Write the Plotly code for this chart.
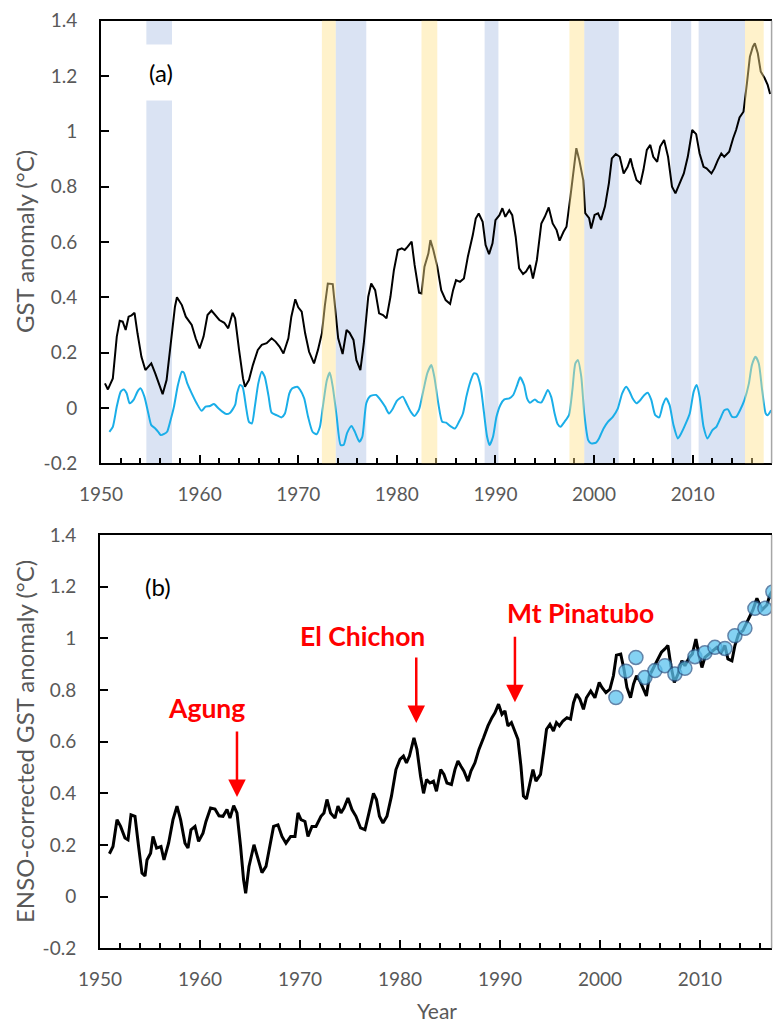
import plotly.graph_objects as go

# ---------------- data ----------------
gst_year = [1950.4,1950.7,1951.2,1951.6,1951.9,1952.2,1952.5,1952.8,1953.1,1953.4,1953.7,1954.1,1954.5,1954.8,1955.1,1955.5,1955.8,1956.25,1956.65,1957.05,1957.5,1957.7,1958.2,1958.6,1958.85,1959.2,1959.6,1960.0,1960.4,1960.8,1961.2,1961.55,1962.0,1962.5,1962.9,1963.35,1963.6,1964.0,1964.4,1964.6,1965.0,1965.4,1965.9,1966.3,1966.8,1967.3,1967.7,1968.1,1968.5,1969.0,1969.3,1969.7,1970.0,1970.35,1970.7,1971.1,1971.6,1972.0,1972.4,1972.7,1973.0,1973.5,1973.8,1974.05,1974.5,1974.9,1975.2,1975.6,1975.9,1976.3,1976.65,1977.1,1977.4,1977.8,1978.2,1978.6,1978.95,1979.35,1979.7,1980.1,1980.5,1980.8,1981.1,1981.5,1981.8,1982.25,1982.5,1982.8,1983.2,1983.4,1983.7,1984.1,1984.5,1984.95,1985.4,1985.7,1986.0,1986.4,1986.8,1987.2,1987.7,1988.0,1988.3,1988.7,1989.0,1989.35,1989.7,1990.0,1990.4,1990.7,1991.0,1991.4,1991.7,1992.05,1992.4,1992.8,1993.1,1993.5,1993.8,1994.2,1994.65,1995.0,1995.4,1995.8,1996.2,1996.5,1996.9,1997.2,1997.6,1997.9,1998.2,1998.5,1998.9,1999.1,1999.5,1999.7,2000.05,2000.4,2000.7,2001.1,2001.5,2001.8,2002.2,2002.6,2003.0,2003.4,2003.7,2003.9,2004.3,2004.7,2005.0,2005.35,2005.7,2006.0,2006.4,2006.7,2007.1,2007.5,2007.9,2008.25,2008.7,2009.1,2009.5,2009.95,2010.35,2010.7,2011.1,2011.4,2011.9,2012.2,2012.55,2012.9,2013.2,2013.7,2014.1,2014.4,2014.75,2015.15,2015.5,2015.8,2016.1,2016.3,2016.6,2016.9,2017.3,2017.6,2017.85]
gst_val = [0.089,0.067,0.107,0.258,0.315,0.312,0.282,0.33,0.335,0.344,0.27,0.185,0.137,0.149,0.161,0.125,0.095,0.05,0.101,0.234,0.366,0.40,0.372,0.33,0.318,0.30,0.252,0.215,0.258,0.336,0.352,0.336,0.318,0.308,0.288,0.344,0.324,0.21,0.107,0.077,0.101,0.155,0.21,0.228,0.234,0.252,0.24,0.222,0.197,0.252,0.33,0.393,0.364,0.348,0.27,0.203,0.161,0.21,0.27,0.37,0.45,0.448,0.354,0.252,0.195,0.282,0.272,0.246,0.173,0.137,0.234,0.402,0.45,0.426,0.342,0.336,0.324,0.402,0.498,0.571,0.577,0.571,0.583,0.601,0.517,0.417,0.414,0.511,0.559,0.607,0.571,0.511,0.426,0.39,0.376,0.426,0.462,0.456,0.468,0.547,0.625,0.685,0.703,0.673,0.589,0.556,0.595,0.679,0.697,0.722,0.691,0.715,0.697,0.619,0.505,0.484,0.493,0.517,0.468,0.535,0.667,0.691,0.725,0.667,0.643,0.605,0.637,0.655,0.764,0.86,0.939,0.896,0.824,0.704,0.686,0.649,0.698,0.704,0.68,0.728,0.812,0.902,0.918,0.908,0.848,0.872,0.902,0.872,0.824,0.812,0.86,0.933,0.951,0.908,0.89,0.945,0.969,0.908,0.8,0.776,0.812,0.848,0.908,1.005,0.99,0.92,0.872,0.866,0.848,0.866,0.896,0.92,0.908,0.926,0.975,1.005,1.05,1.071,1.174,1.27,1.306,1.318,1.282,1.216,1.192,1.168,1.135]

enso_year = [1950.85,1951.2,1951.6,1952.0,1952.3,1952.6,1952.9,1953.3,1953.7,1954.0,1954.4,1954.8,1955.1,1955.5,1955.8,1956.05,1956.4,1956.7,1957.05,1957.4,1957.8,1958.2,1958.4,1958.75,1959.2,1959.7,1960.2,1960.6,1961.05,1961.45,1961.9,1962.3,1962.7,1963.1,1963.6,1963.8,1964.1,1964.35,1964.7,1965.0,1965.3,1965.6,1965.95,1966.3,1966.6,1967.0,1967.3,1967.8,1968.3,1968.65,1969.1,1969.4,1969.9,1970.2,1970.6,1971.0,1971.45,1971.85,1972.2,1972.5,1972.9,1973.2,1973.5,1973.9,1974.3,1974.6,1974.96,1975.4,1975.74,1976.2,1976.5,1976.9,1977.3,1977.9,1978.3,1978.8,1979.2,1979.6,1980.0,1980.6,1980.97,1981.4,1981.8,1982.25,1982.7,1983.1,1983.5,1983.8,1984.2,1984.6,1985.0,1985.4,1985.9,1986.3,1986.7,1987.05,1987.45,1987.8,1988.1,1988.5,1988.8,1989.15,1989.4,1989.75,1990.1,1990.5,1990.9,1991.4,1991.8,1992.2,1992.5,1992.9,1993.2,1993.5,1994.0,1994.3,1994.65,1995.0,1995.3,1995.65,1996.0,1996.3,1996.6,1997.0,1997.45,1997.8,1998.1,1998.36,1998.7,1999.0,1999.4,1999.7,2000.2,2000.5,2000.96,2001.4,2001.9,2002.4,2002.85,2003.26,2003.6,2003.9,2004.3,2004.7,2005.1,2005.45,2005.8,2006.2,2006.6,2006.97,2007.3,2007.65,2008.05,2008.5,2008.8,2009.3,2009.7,2010.1,2010.4,2010.7,2011.1,2011.5,2012.0,2012.4,2012.8,2013.2,2013.56,2014.0,2014.4,2014.8,2015.25,2015.7,2016.0,2016.36,2016.7,2017.04,2017.4,2017.6,2017.95]
enso_val = [-0.086,-0.068,0.005,0.059,0.067,0.053,0.017,0.029,0.059,0.071,0.041,-0.02,-0.062,-0.074,-0.086,-0.098,-0.094,-0.086,-0.044,0.005,0.083,0.131,0.128,0.089,0.053,0.017,-0.01,0.005,0.007,0.014,-0.001,-0.013,-0.022,-0.017,0.011,0.053,0.083,0.077,0.005,-0.05,-0.056,0.005,0.089,0.131,0.113,0.041,-0.017,-0.026,-0.034,-0.02,0.053,0.071,0.077,0.065,0.035,-0.032,-0.086,-0.095,-0.068,0.005,0.1,0.128,0.077,-0.032,-0.134,-0.134,-0.09,-0.065,-0.086,-0.122,-0.104,0.017,0.043,0.047,0.031,0.005,-0.02,-0.002,0.026,0.041,0.017,-0.013,-0.029,-0.005,0.065,0.127,0.155,0.113,0.017,-0.05,-0.053,-0.065,-0.074,-0.05,-0.02,0.041,0.095,0.125,0.123,0.077,-0.007,-0.104,-0.134,-0.104,-0.032,0.011,0.031,0.035,0.047,0.083,0.111,0.083,0.035,0.019,0.031,0.022,0.02,0.043,0.065,0.04,-0.02,-0.058,-0.068,-0.05,-0.026,0.065,0.161,0.173,0.113,-0.02,-0.116,-0.128,-0.125,-0.11,-0.074,-0.05,-0.032,-0.002,0.053,0.077,0.059,0.035,0.017,0.029,0.047,0.055,0.029,-0.026,-0.034,0.011,0.035,0.011,-0.062,-0.11,-0.094,-0.056,-0.02,0.059,0.083,0.041,-0.068,-0.11,-0.08,-0.068,-0.038,-0.008,-0.005,-0.032,-0.032,-0.008,0.029,0.089,0.155,0.185,0.161,0.065,-0.02,-0.026,-0.008]

corr_year = [1950.94,1951.3,1951.7,1952.06,1952.5,1952.8,1953.1,1953.5,1953.86,1954.2,1954.5,1954.7,1955.06,1955.3,1955.66,1956.1,1956.4,1956.86,1957.3,1957.7,1958.06,1958.5,1958.8,1959.1,1959.5,1959.86,1960.3,1960.6,1961.06,1961.5,1961.9,1962.3,1962.7,1963.0,1963.37,1963.7,1964.06,1964.36,1964.57,1964.9,1965.4,1965.77,1966.2,1966.6,1967.06,1967.36,1967.8,1968.2,1968.6,1969.07,1969.5,1969.8,1970.1,1970.5,1970.8,1971.2,1971.6,1972.1,1972.4,1972.7,1973.06,1973.5,1973.8,1974.1,1974.4,1974.8,1975.2,1975.6,1976.06,1976.5,1976.9,1977.35,1977.65,1977.95,1978.3,1978.7,1979.15,1979.6,1980.0,1980.35,1980.65,1980.95,1981.4,1981.7,1982.06,1982.36,1982.66,1983.0,1983.35,1983.65,1984.08,1984.4,1984.7,1985.15,1985.5,1985.8,1986.1,1986.4,1986.8,1987.1,1987.5,1987.9,1988.36,1988.8,1989.2,1989.5,1989.86,1990.2,1990.5,1990.8,1991.15,1991.5,1991.8,1992.1,1992.35,1992.65,1992.95,1993.3,1993.6,1994.06,1994.36,1994.66,1995.0,1995.35,1995.65,1995.95,1996.3,1996.7,1997.06,1997.36,1997.66,1998.0,1998.35,1998.65,1999.08,1999.5,1999.93,2000.2,2000.6,2001.0,2001.35,2001.65,2002.08,2002.4,2002.7,2003.06,2003.36,2003.66,2004.0,2004.35,2004.65,2004.95,2005.3,2005.7,2006.15,2006.5,2006.8,2007.1,2007.44,2007.8,2008.2,2008.5,2008.94,2009.24,2009.6,2009.92,2010.2,2010.5,2010.87,2011.3,2011.7,2012.15,2012.5,2012.8,2013.2,2013.5,2013.87,2014.3,2014.8,2015.3,2015.7,2016.2,2016.7,2017.0,2017.3]
corr_val = [0.166,0.194,0.298,0.272,0.227,0.22,0.317,0.311,0.194,0.091,0.08,0.142,0.168,0.233,0.188,0.194,0.142,0.207,0.298,0.35,0.298,0.207,0.188,0.259,0.272,0.214,0.246,0.291,0.343,0.339,0.313,0.311,0.337,0.304,0.352,0.324,0.194,0.065,0.013,0.117,0.201,0.155,0.093,0.117,0.207,0.272,0.278,0.233,0.207,0.233,0.233,0.324,0.298,0.291,0.233,0.272,0.272,0.311,0.324,0.376,0.324,0.304,0.35,0.324,0.343,0.382,0.337,0.311,0.266,0.259,0.324,0.40,0.376,0.311,0.285,0.311,0.389,0.492,0.531,0.544,0.518,0.544,0.615,0.57,0.466,0.40,0.453,0.44,0.447,0.408,0.492,0.473,0.44,0.434,0.492,0.525,0.505,0.486,0.447,0.486,0.518,0.57,0.615,0.661,0.693,0.712,0.745,0.706,0.719,0.661,0.674,0.641,0.609,0.505,0.389,0.378,0.427,0.492,0.447,0.473,0.557,0.648,0.667,0.641,0.674,0.661,0.68,0.693,0.687,0.751,0.784,0.764,0.725,0.77,0.796,0.77,0.829,0.81,0.79,0.803,0.855,0.935,0.939,0.881,0.81,0.77,0.823,0.855,0.835,0.803,0.777,0.855,0.881,0.907,0.946,0.959,0.972,0.894,0.829,0.861,0.913,0.894,0.926,0.939,0.997,0.933,0.887,0.926,0.939,0.952,0.965,0.946,0.972,0.92,0.913,0.972,1.017,1.03,1.071,1.11,1.155,1.11,1.129,1.168,1.187]

dots_year = [2001.6,2002.6,2003.6,2004.5,2005.5,2006.5,2007.5,2008.5,2009.5,2010.5,2011.5,2012.5,2013.5,2014.5,2015.5,2016.5,2017.3]
dots_val = [0.771,0.873,0.926,0.848,0.875,0.894,0.862,0.884,0.929,0.944,0.965,0.961,1.01,1.039,1.116,1.116,1.18]

el_nino = [(1972.4,1973.8),(1982.5,1984.1),(1997.5,1999.0),(2015.3,2017.2)]
la_nina = [(1954.6,1957.2),(1973.8,1976.9),(1988.9,1990.3),(1999.0,2002.5),(2007.8,2009.85),(2010.6,2015.3)]

volcanoes = ["Agung", "El Chichon", "Mt Pinatubo"]
volc_year = [1963.7, 1981.63, 1991.5]
volc_tip = [0.386, 0.672, 0.753]
volc_text_x = [1960.7, 1976.3, 1998.05]
volc_text_y = [0.73, 1.009, 1.098]

yticks = [-0.2, 0, 0.2, 0.4, 0.6, 0.8, 1.0, 1.2, 1.4]
ytick_text = ["-0.2", "0", "0.2", "0.4", "0.6", "0.8", "1", "1.2", "1.4"]
xticks = [1950, 1960, 1970, 1980, 1990, 2000, 2010]

# ---------------- figure ----------------
W, H = 773, 1025
FONT = "Lato"
GREY = "#595959"

fig = go.Figure()

fig.add_trace(go.Scatter(x=gst_year, y=gst_val, mode="lines",
                         line=dict(color="black", width=2), xaxis="x", yaxis="y",
                         showlegend=False, hoverinfo="skip"))
fig.add_trace(go.Scatter(x=enso_year, y=enso_val, mode="lines",
                         line=dict(color="#1aaee8", width=2, shape="spline", smoothing=0.6),
                         xaxis="x", yaxis="y", showlegend=False, hoverinfo="skip"))
fig.add_trace(go.Scatter(x=corr_year, y=corr_val, mode="lines",
                         line=dict(color="black", width=3), xaxis="x2", yaxis="y2",
                         showlegend=False, hoverinfo="skip"))
fig.add_trace(go.Scatter(x=dots_year, y=dots_val, mode="markers",
                         marker=dict(size=14, color="#5cc3ef", opacity=0.75,
                                     line=dict(color="#2e5a8c", width=1.5)),
                         xaxis="x2", yaxis="y2", showlegend=False, hoverinfo="skip"))

shapes = []
for a, b in la_nina:
    shapes.append(dict(type="rect", xref="x", yref="y domain", x0=a, x1=b, y0=0, y1=1,
                       fillcolor="#dae3f3", line=dict(width=0), layer="below"))
for a, b in el_nino:
    shapes.append(dict(type="rect", xref="x", yref="y domain", x0=a, x1=b, y0=0, y1=1,
                       fillcolor="rgba(255,226,140,0.45)", line=dict(width=0), layer="above"))

# right borders (light grey)
for yd in ([1 - 463.3 / H, 1 - 20.7 / H], [1 - 948.3 / H, 1 - 535 / H]):
    shapes.append(dict(type="line", xref="paper", yref="paper", x0=771.6 / W, x1=771.6 / W,
                       y0=yd[0], y1=yd[1], line=dict(color="#a6a6a6", width=1.5), layer="above"))

C = dict(xanchor="center", yanchor="middle", showarrow=False)
annotations = []
annotations.append(dict(text="(a)", xref="paper", yref="paper", x=161 / W, y=1 - 73 / H,
                        font=dict(family=FONT, size=24, color="black"),
                        bgcolor="white", borderpad=13, **C))
annotations.append(dict(text="(b)", xref="paper", yref="paper", x=158 / W, y=1 - 586 / H,
                        font=dict(family=FONT, size=24, color="black"), **C))
for name, vx, tip, tx, ty in zip(volcanoes, volc_year, volc_tip, volc_text_x, volc_text_y):
    annotations.append(dict(text=f"<b>{name}</b>", x=tx, y=ty, xref="x2", yref="y2",
                            font=dict(family=FONT, size=26.5, color="#ff0000"), **C))
    annotations.append(dict(text="", x=vx, y=tip, xref="x2", yref="y2", ax=0, ay=-67,
                            showarrow=True, arrowhead=2, arrowsize=1.4, arrowwidth=2.5,
                            arrowcolor="#ff0000"))
annotations.append(dict(text="GST anomaly (°C)", xref="paper", yref="paper", x=24 / W, y=1 - 242 / H,
                        textangle=-90, font=dict(family=FONT, size=24, color=GREY), **C))
annotations.append(dict(text="ENSO-corrected GST anomaly (°C)", xref="paper", yref="paper",
                        x=24 / W, y=1 - 742 / H, textangle=-90,
                        font=dict(family=FONT, size=24, color=GREY), **C))
annotations.append(dict(text="Year", xref="paper", yref="paper", x=437 / W, y=1 - 1010 / H,
                        font=dict(family=FONT, size=21, color=GREY), **C))

xcommon = dict(tickvals=xticks, ticks="inside", ticklen=8, tickwidth=1.5, tickcolor="black",
               minor=dict(dtick=2, ticks="inside", ticklen=5, tickwidth=1.5, tickcolor="black"),
               showline=True, linecolor="black", linewidth=2, mirror=True,
               showgrid=False, zeroline=False, automargin=False,
               tickfont=dict(family=FONT, size=19, color=GREY), ticklabelstandoff=13)
ycommon = dict(range=[-0.2, 1.4], tickvals=yticks, ticktext=ytick_text, ticks="inside",
               ticklen=8, tickwidth=1.5, tickcolor="black", showline=True, linecolor="black",
               linewidth=2, showgrid=False, zeroline=False, automargin=False,
               tickfont=dict(family=FONT, size=19, color=GREY), ticklabelstandoff=18)

fig.update_layout(
    width=W, height=H, margin=dict(l=0, r=0, t=0, b=0, autoexpand=False),
    paper_bgcolor="white", plot_bgcolor="white",
    xaxis=dict(domain=[101 / W, 771.6 / W], range=[1950, 2018], anchor="y", **xcommon),
    yaxis=dict(domain=[1 - 463.3 / H, 1 - 20.7 / H], anchor="x", **ycommon),
    xaxis2=dict(domain=[100 / W, 771.6 / W], range=[1950, 2017.17], anchor="y2", **xcommon),
    yaxis2=dict(domain=[1 - 948.3 / H, 1 - 535 / H], anchor="x2", **ycommon),
    shapes=shapes, annotations=annotations, showlegend=False,
)

fig.write_html("out.html")
